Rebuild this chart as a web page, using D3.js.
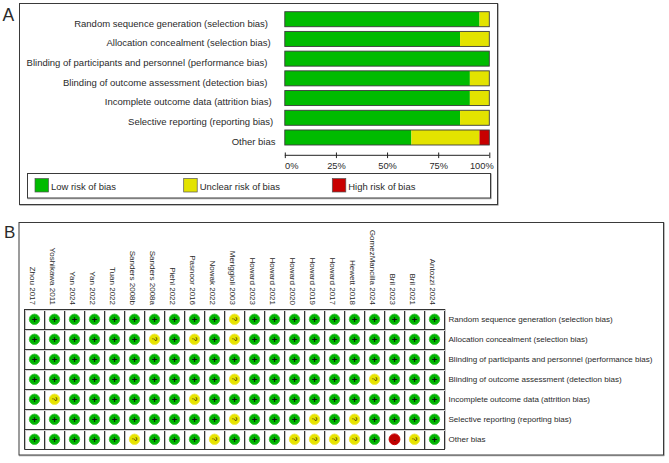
<!DOCTYPE html>
<html><head><meta charset="utf-8">
<script src="https://cdn.jsdelivr.net/npm/d3@7"></script>
<style>html,body{margin:0;padding:0;background:#fff}svg{display:block}text{font-family:"Liberation Sans",Arial,sans-serif;fill:#2a2a2a}</style>
</head><body><svg id="c" width="669" height="463"></svg>
<script>
const domains = ["Random sequence generation (selection bias)","Allocation concealment (selection bias)","Blinding of participants and personnel (performance bias)","Blinding of outcome assessment (detection bias)","Incomplete outcome data (attrition bias)","Selective reporting (reporting bias)","Other bias"];
const lowPct = [95.2,85.7,100,90.5,90.5,85.7,61.9];
const unclearPct = [4.8,14.3,0,9.5,9.5,14.3,33.3];
const highPct = [0,0,0,0,0,0,4.8];
const riskLabels = ["Low risk of bias","Unclear risk of bias","High risk of bias"];
const riskColors = ["#00bb00","#e3e300","#c80000"];
const xTicks = [0,25,50,75,100];
const studies = ["Zhou 2017","Yoshikawa 2011","Yan 2024","Yan 2022","Tuan 2022","Sanders  2008b","Sanders 2008a","Piehl 2022","Pasnoor 2016","Nowak 2022","Meriggioli 2003","Howard 2023","Howard 2021","Howard 2020","Howard 2019","Howard 2017","Hewett 2018","GomezMancilla 2024","Bril 2023","Bril 2021","Antozzi 2024"];
const row1 = "++++++++++?++++++++++";
const row2 = "++++++?+?+?++++++++++";
const row3 = "+++++++++++++++++++++";
const row4 = "++++++++++?++++++?+++";
const row5 = "+?++++++?++++++++++++";
const row6 = "++++++++++?+++?+?++++";
const row7 = "+++++?+++?+++????+-?+";
const judgements = [row1,row2,row3,row4,row5,row6,row7];

const svg = d3.select("#c");
const ink = "#3a3a3a";
function box(x,y,w,h,sw,shadow){
  if(shadow){
    svg.append("path").attr("d",`M${x+w+.8},${y}V${y+h+.8}H${x}`).attr("fill","none").attr("stroke","#aaa").attr("stroke-width",1);
  }
  svg.append("rect").attr("x",x).attr("y",y).attr("width",w).attr("height",h).attr("fill","none").attr("stroke",ink).attr("stroke-width",sw||1);
}

// Panel A
svg.append("text").attr("x",2.5).attr("y",21).attr("font-size",17.5).text("A");
box(19.5,3.5,478,201,1,true);
const x = d3.scaleLinear().domain([0,100]).range([284.8,489.3]);
const y = d3.scaleBand().domain(domains).range([11.7,145]).paddingInner(0.2386).paddingOuter(0);
const labelEnd = [268,270.7,267.4,267.4,271.7,273.3,275.5];
const barG = svg.append("g");
domains.forEach((d,i)=>{
  const segs=[lowPct[i],unclearPct[i],highPct[i]];
  let acc=0;
  segs.forEach((v,k)=>{
    if(v>0) barG.append("rect").attr("x",x(acc)).attr("y",y(d)).attr("width",x(acc+v)-x(acc)).attr("height",y.bandwidth()).attr("fill",riskColors[k]);
    acc+=v;
  });
  barG.append("rect").attr("x",x(0)).attr("y",y(d)).attr("width",x(100)-x(0)).attr("height",y.bandwidth()).attr("fill","none").attr("stroke","#3c3c3c").attr("stroke-width",.9);
  svg.append("text").attr("x",labelEnd[i]).attr("y",y(d)+y.bandwidth()/2+7.3).attr("text-anchor","end").attr("font-size",9.5).text(d);
});
const ax = svg.append("g").attr("transform","translate(0,155.3)").call(d3.axisBottom(x).tickValues(xTicks).tickSize(5).tickFormat(d=>d+"%"));
ax.select(".domain").attr("d","M"+x(0)+",0H"+x(100)).attr("stroke","#222");
ax.selectAll(".tick line").attr("y1",-2.8).attr("y2",2.8).attr("stroke","#222");
ax.selectAll(".tick text").attr("font-size",9.3).attr("y",7.5).attr("font-family","'Liberation Sans',Arial,sans-serif").attr("fill","#2a2a2a")
  .attr("dx",(d,i)=>[6.5,0,0,0,-8][i]);
box(27.5,173.5,463,24.5,1,true);
[35,183.7,332.3].forEach((px,i)=>{
  svg.append("rect").attr("x",px).attr("y",178.5).attr("width",13.5).attr("height",13.5).attr("fill",riskColors[i]).attr("stroke","#555").attr("stroke-width",.7);
  svg.append("text").attr("x",px+16).attr("y",190).attr("font-size",9.45).text(riskLabels[i]);
});

// Panel B
svg.append("text").attr("x",4).attr("y",238).attr("font-size",17).text("B");
box(19,222.5,644.5,232.5,1,true);
const gx = d3.scaleBand().domain(studies).range([24.5,444.5]);
const gy = d3.scaleBand().domain(domains).range([309,449]);
gx.domain().forEach(s=>{
  svg.append("text").attr("transform",`translate(${gx(s)+gx.bandwidth()/2-4.7},305) rotate(90)`).attr("text-anchor","end").attr("font-size",8).text(s);
});
d3.range(22).forEach(i=>{const px=24.5+i*20;
  svg.append("line").attr("x1",px+1).attr("x2",px+1).attr("y1",309).attr("y2",449).attr("stroke","#c4c4c4").attr("stroke-width",1);
  svg.append("line").attr("x1",px).attr("x2",px).attr("y1",309).attr("y2",449.5).attr("stroke","#333").attr("stroke-width",1);});
d3.range(8).forEach(i=>{const py=309+i*20;
  svg.append("line").attr("x1",24.5).attr("x2",445).attr("y1",py+.5).attr("y2",py+.5).attr("stroke","#333").attr("stroke-width",1);
  if(i<7) svg.append("line").attr("x1",25).attr("x2",445).attr("y1",py+1.5).attr("y2",py+1.5).attr("stroke","#d4d4d4").attr("stroke-width",1);});
const fills={"+":"#00b400","?":"#e8e400","-":"#c00000"};
const rings={"+":"#3cc43c","?":"#eeea40","-":"#c80000"};
judgements.forEach((row,r)=>{
  studies.forEach((s,c)=>{
    const j=row[c], cx=gx(s)+gx.bandwidth()/2, cy=gy(domains[r])+gy.bandwidth()/2+.3;
    svg.append("circle").attr("cx",cx).attr("cy",cy).attr("r",j==="-"?5.4:5.2).attr("fill",fills[j]).attr("stroke",rings[j]).attr("stroke-width",1);
    if(j==="+") svg.append("text").attr("x",cx).attr("y",cy+3.2).attr("text-anchor","middle").attr("font-size",9.5).attr("font-weight","bold").style("fill","#111").text("+");
    if(j==="?") svg.append("text").attr("transform",`translate(${cx-2.4},${cy-2.4}) rotate(90)`).attr("font-size",7).style("fill","#111").text("?");
    if(j==="-") svg.append("text").attr("x",cx).attr("y",cy+2.5).attr("text-anchor","middle").attr("font-size",7).style("fill","#111").text("-");
  });
  svg.append("text").attr("x",448.5).attr("y",gy(domains[r])+gy.bandwidth()/2+3).attr("font-size",8.05).text(domains[r]);
});
</script></body></html>
